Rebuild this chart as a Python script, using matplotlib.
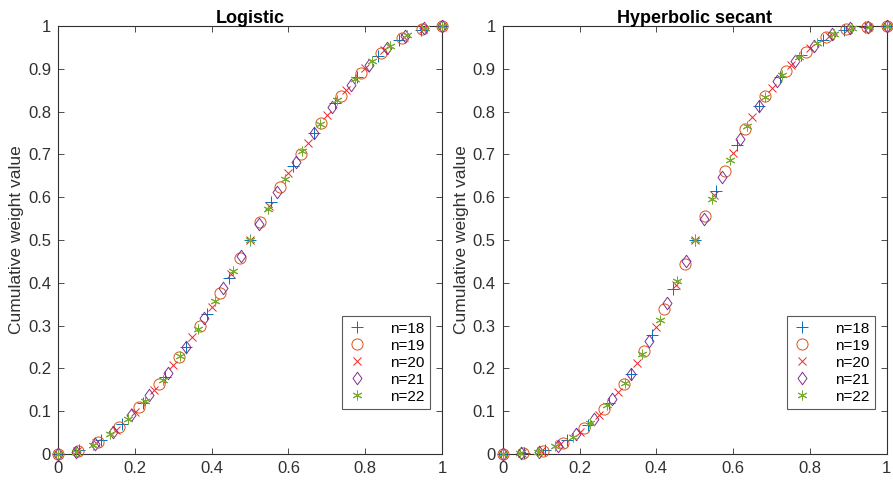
import matplotlib
matplotlib.use("Agg")
import matplotlib.pyplot as plt
from matplotlib.path import Path

plt.rcParams['font.family'] = ['Liberation Sans', 'DejaVu Sans']

# x positions (i/n) for each series
x18 = [0, 0.0556, 0.1111, 0.1667, 0.2222, 0.2778, 0.3333, 0.3889, 0.4444, 0.5,
       0.5556, 0.6111, 0.6667, 0.7222, 0.7778, 0.8333, 0.8889, 0.9444, 1]
x19 = [0, 0.0526, 0.1053, 0.1579, 0.2105, 0.2632, 0.3158, 0.3684, 0.4211, 0.4737,
       0.5263, 0.5789, 0.6316, 0.6842, 0.7368, 0.7895, 0.8421, 0.8947, 0.9474, 1]
x20 = [0, 0.05, 0.1, 0.15, 0.2, 0.25, 0.3, 0.35, 0.4, 0.45, 0.5,
       0.55, 0.6, 0.65, 0.7, 0.75, 0.8, 0.85, 0.9, 0.95, 1]
x21 = [0, 0.0476, 0.0952, 0.1429, 0.1905, 0.2381, 0.2857, 0.3333, 0.3810, 0.4286, 0.4762,
       0.5238, 0.5714, 0.6190, 0.6667, 0.7143, 0.7619, 0.8095, 0.8571, 0.9048, 0.9524, 1]
x22 = [0, 0.0455, 0.0909, 0.1364, 0.1818, 0.2273, 0.2727, 0.3182, 0.3636, 0.4091, 0.4545, 0.5,
       0.5455, 0.5909, 0.6364, 0.6818, 0.7273, 0.7727, 0.8182, 0.8636, 0.9091, 0.9545, 1]

# Logistic cumulative weights
log18 = [0, 0.009, 0.032, 0.070, 0.120, 0.180, 0.250, 0.328, 0.412, 0.5,
         0.588, 0.672, 0.750, 0.820, 0.880, 0.930, 0.968, 0.991, 1]
log19 = [0, 0.008, 0.029, 0.063, 0.109, 0.164, 0.227, 0.299, 0.376, 0.458,
         0.542, 0.624, 0.701, 0.773, 0.836, 0.891, 0.937, 0.971, 0.992, 1]
log20 = [0, 0.007, 0.026, 0.057, 0.099, 0.149, 0.207, 0.273, 0.344, 0.421, 0.5,
         0.579, 0.656, 0.727, 0.793, 0.851, 0.901, 0.943, 0.974, 0.993, 1]
log21 = [0, 0.006, 0.024, 0.052, 0.091, 0.137, 0.190, 0.250, 0.317, 0.388, 0.462,
         0.538, 0.612, 0.683, 0.750, 0.810, 0.863, 0.909, 0.948, 0.976, 0.994, 1]
log22 = [0, 0.006, 0.022, 0.048, 0.083, 0.125, 0.174, 0.230, 0.292, 0.358, 0.428, 0.5,
         0.572, 0.642, 0.708, 0.770, 0.826, 0.875, 0.917, 0.952, 0.978, 0.994, 1]

# Hyperbolic secant cumulative weights
hs18 = [0, 0.002, 0.010, 0.032, 0.069, 0.119, 0.188, 0.277, 0.385, 0.5,
        0.615, 0.723, 0.812, 0.881, 0.931, 0.968, 0.990, 0.998, 1]
hs19 = [0, 0.002, 0.008, 0.027, 0.060, 0.105, 0.164, 0.241, 0.338, 0.445,
        0.555, 0.662, 0.759, 0.836, 0.895, 0.940, 0.973, 0.992, 0.998, 1]
hs20 = [0, 0.002, 0.007, 0.023, 0.052, 0.092, 0.144, 0.212, 0.297, 0.396, 0.5,
        0.604, 0.703, 0.788, 0.856, 0.908, 0.948, 0.977, 0.993, 0.998, 1]
hs21 = [0, 0.002, 0.006, 0.020, 0.046, 0.082, 0.128, 0.188, 0.263, 0.352, 0.450,
        0.550, 0.648, 0.737, 0.812, 0.872, 0.918, 0.954, 0.980, 0.994, 0.998, 1]
hs22 = [0, 0.002, 0.006, 0.018, 0.040, 0.073, 0.114, 0.167, 0.234, 0.314, 0.405, 0.5,
        0.595, 0.686, 0.766, 0.833, 0.886, 0.927, 0.960, 0.982, 0.994, 0.998, 1]

labels = ['n=18', 'n=19', 'n=20', 'n=21', 'n=22']
xs = [x18, x19, x20, x21, x22]
logistic = [log18, log19, log20, log21, log22]
hypsec = [hs18, hs19, hs20, hs21, hs22]
titles = ['Logistic', 'Hyperbolic secant']
xticks = [0, 0.2, 0.4, 0.6, 0.8, 1]
xticklabels = ['0', '0.2', '0.4', '0.6', '0.8', '1']
yticks = [0, 0.1, 0.2, 0.3, 0.4, 0.5, 0.6, 0.7, 0.8, 0.9, 1]
yticklabels = ['0', '0.1', '0.2', '0.3', '0.4', '0.5', '0.6', '0.7', '0.8', '0.9', '1']

diamond = Path([(0, 1), (0.72, 0), (0, -1), (-0.72, 0), (0, 1)],
               [Path.MOVETO, Path.LINETO, Path.LINETO, Path.LINETO, Path.CLOSEPOLY])
markers = ['+', 'o', 'x', diamond, (6, 2, 0)]
msizes = [8, 8, 6, 9, 7]
colors = [(0.0, 0.447, 0.741), (0.85, 0.325, 0.098), (0.93, 0.15, 0.15),
          (0.494, 0.184, 0.556), (0.466, 0.674, 0.188)]

fig = plt.figure(figsize=(8.93, 4.8), dpi=100)
axes = [fig.add_axes([0.065, 0.054, 0.430, 0.892]),
        fig.add_axes([0.563, 0.054, 0.430, 0.892])]

for ax, data, title in zip(axes, [logistic, hypsec], titles):
    for x, y, m, ms, c, lab in zip(xs, data, markers, msizes, colors, labels):
        ax.plot(x, y, linestyle='none', marker=m, markersize=ms,
                markerfacecolor='none', markeredgecolor=c, markeredgewidth=0.7,
                color=c, label=lab, clip_on=False, zorder=3)
    ax.set_xlim(0, 1)
    ax.set_ylim(0, 1)
    ax.set_xticks(xticks)
    ax.set_xticklabels(xticklabels)
    ax.set_yticks(yticks)
    ax.set_yticklabels(yticklabels)
    ax.tick_params(direction='in', top=True, right=True, length=4, width=0.6,
                   labelsize=12, colors='#303030', pad=5)
    for s in ax.spines.values():
        s.set_linewidth(0.8)
        s.set_color('#303030')
    ax.set_title(title, fontsize=13, fontweight='bold', pad=2, color='black')
    ax.set_ylabel('Cumulative weight value', fontsize=12.5, color='#303030', labelpad=3)
    leg = ax.legend(loc='lower right', bbox_to_anchor=(0.969, 0.105), fontsize=11,
                    frameon=True, fancybox=False, edgecolor='#303030',
                    handlelength=1.2, handletextpad=1.6, borderpad=0.35,
                    labelspacing=0.2, borderaxespad=0.0)
    leg.get_frame().set_linewidth(0.8)

fig.savefig('out.png', dpi=100)
